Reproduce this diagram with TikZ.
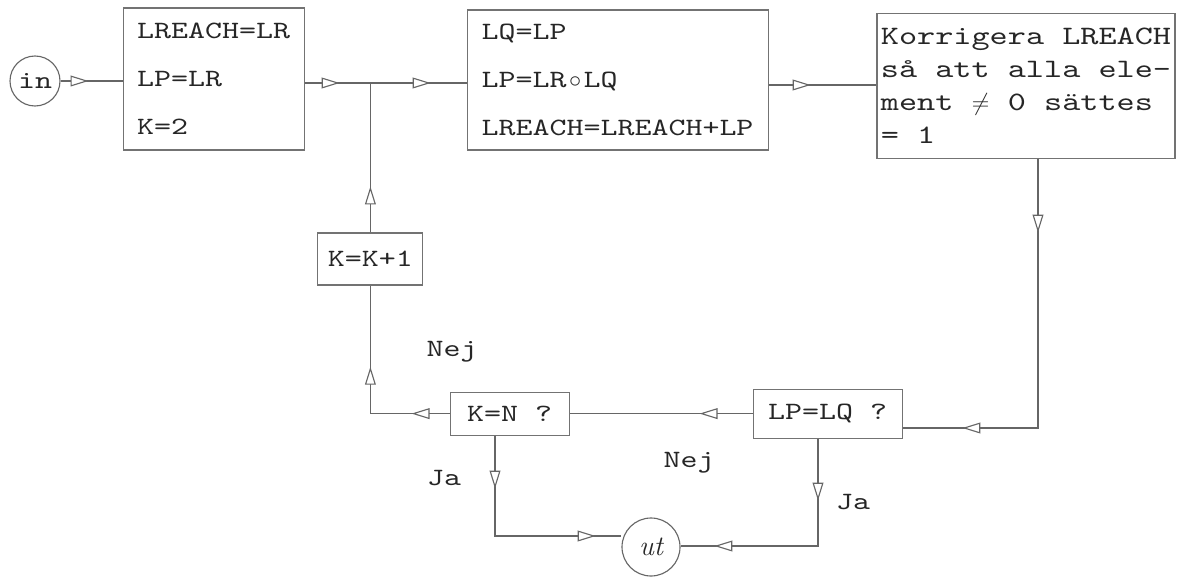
\documentclass[tikz,border=0pt]{standalone}
\usepackage{fontspec}
\usetikzlibrary{positioning,arrows.meta,decorations.markings,calc}

\newfontfamily\typewfont{lmmono10-regular.otf}[FakeStretch=1.3]
\newcommand{\monobox}[1]{\makebox[\fontcharwd\font`0]{$#1$}}

\begin{document}
\begin{tikzpicture}[
  >={Triangle[fill=white,length=0.45cm,width=0.27cm]},
  flow/.style={draw=black!60,line width=0.8pt},
  arr/.style={postaction={decorate,decoration={markings,mark=at position #1 with {\arrow[draw=black!60,line width=0.8pt]{>}}}}},
  opbox/.style={rectangle,draw=black!55,line width=0.8pt,align=left,inner sep=2pt,text=black!85,font=\typewfont\fontsize{17.7}{34}\selectfont},
  testbox/.style={rectangle,draw=black!55,line width=0.8pt,inner sep=2pt,text=black!85,font=\typewfont\fontsize{17.7}{20}\selectfont},
  term/.style={circle,draw=black!60,line width=0.8pt,inner sep=0pt,text=black!85},
  lab/.style={font=\typewfont\fontsize{17.7}{20}\selectfont,text=black!85},
]
\useasboundingbox (0,0) rectangle (29.8,-14.475);

% === TOP ROW: start, init, power step, fix-up ===
\node[term,minimum size=1.25cm,font=\typewfont\fontsize{17.7}{20}\selectfont] (start) at (0.875,-2.025) {in};
\node[opbox,minimum width=4.525cm,minimum height=3.55cm] (init) at (5.34,-1.975) {LREACH=LR\\LP=LR\\K=2};
\node[opbox,minimum width=7.525cm,minimum height=3.5cm] (power) at (15.44,-2.0) {LQ=LP\\LP=LR\monobox{\circ}LQ\\LREACH=LREACH+LP};
\node[opbox,minimum width=7.45cm,minimum height=3.625cm,font=\typewfont\fontsize{18.9}{23.6}\selectfont] (fixup) at (25.65,-2.14) {Korrigera LREACH\\så att alla ele-\\ment \monobox{\neq} 0 sättes\\= 1};

\coordinate (jn) at (9.26,-2.075);

\draw[flow,arr=0.7cm] (start) -- (start -| init.west);
\draw[flow,arr=0.875cm,arr=3.15cm] (init.east |- jn) -- (jn -| power.west);
\draw[flow,arr=1.05cm] ([yshift=-0.125cm]power.east) -- ([yshift=-0.125cm]power.east -| fixup.west);

% === LOOP: counter and tests ===
\node[testbox,minimum width=2.625cm,minimum height=1.3cm] (kinc) at (9.26,-6.475) {K=K+1};
\node[testbox,minimum width=2.975cm,minimum height=1.075cm] (kcheck) at (12.74,-10.34) {K=N ?};
\node[testbox,minimum width=3.725cm,minimum height=1.225cm] (lcheck) at (20.69,-10.34) {LP=LQ ?};
\node[term,minimum size=1.45cm,font=\itshape\fontsize{20}{24}\selectfont] (stop) at (16.275,-13.675) {ut};

\coordinate (c1) at (25.95,-10.7);
\coordinate (c2) at (12.375,-13.4);
\coordinate (c3) at (20.45,-13.65);

\draw[flow,arr=1.15cm] (kinc.north) -- (jn);
\draw[flow,arr=1.85cm,arr=8.625cm] (c1 |- fixup.south) -- (c1) -- (c1 -| lcheck.east);
\draw[flow,arr=1.325cm] (lcheck.west) -- (kcheck.east);
\draw[flow,arr=0.95cm,arr=3.15cm] (kcheck.west) -| (kinc.south);
\draw[flow,arr=1.325cm,arr=5.025cm] (c2 |- kcheck.south) -- (c2) -- (c2 -| stop.west);
\draw[flow,arr=1.55cm,arr=5.275cm] (c3 |- lcheck.south) -- (c3) -- (c3 -| stop.east);

% answers
\node[lab] (nej1) at (11.3,-8.8) {Nej};
\node[lab] (nej2) at (17.225,-11.575) {Nej};
\node[lab] (ja1) at (11.1,-11.95) {Ja};
\node[lab] (ja2) at (21.325,-12.55) {Ja};

\end{tikzpicture}
\end{document}
